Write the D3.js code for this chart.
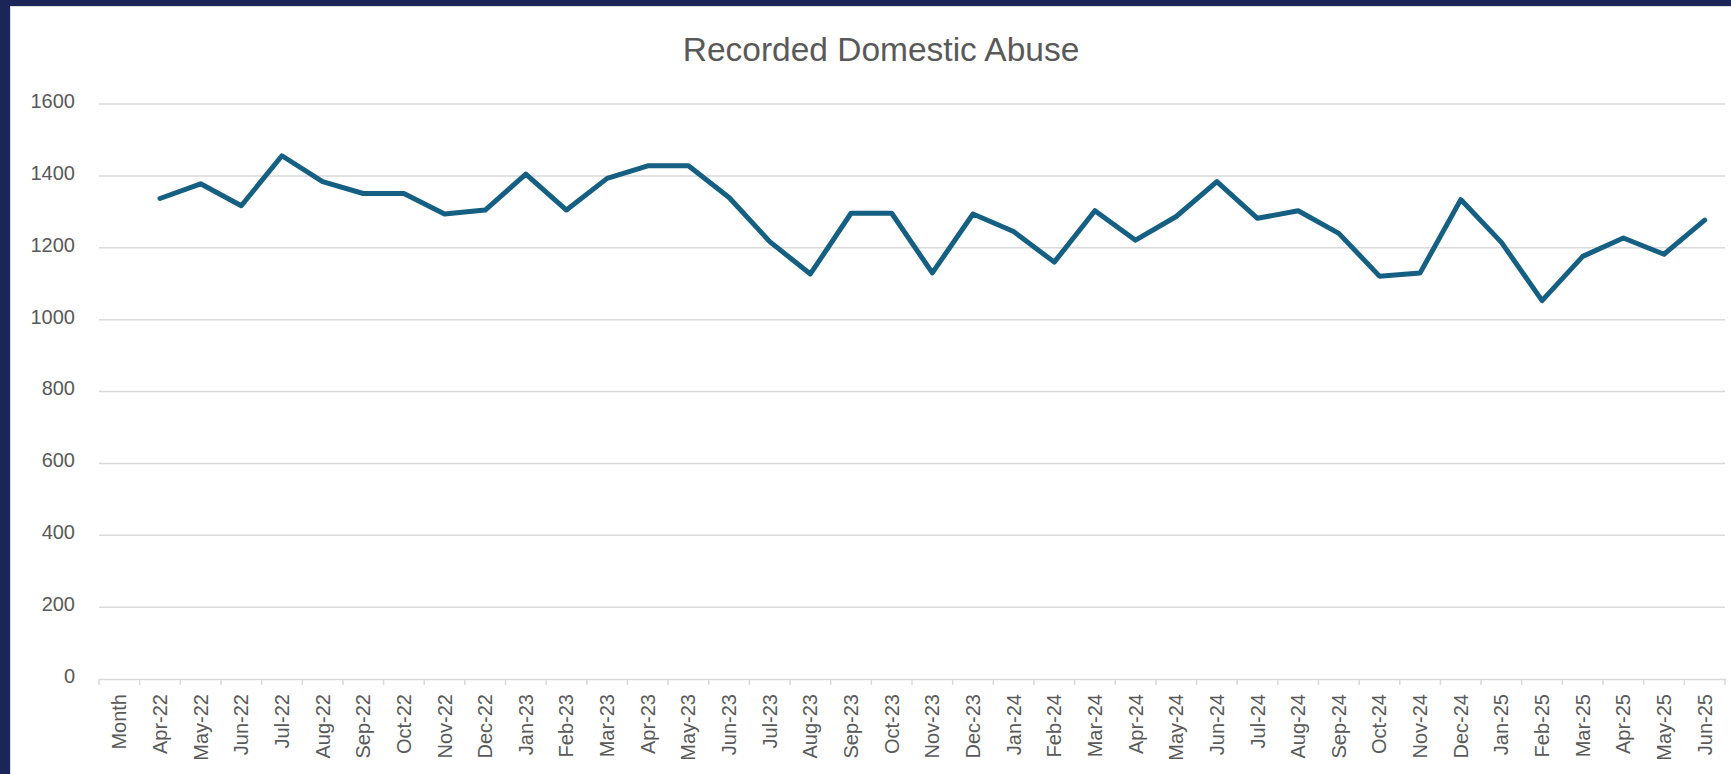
<!DOCTYPE html>
<html>
<head>
<meta charset="utf-8">
<script src="https://cdn.jsdelivr.net/npm/d3@7"></script>
<style>
  html, body { margin: 0; padding: 0; background: #1b2557; }
  svg { display: block; }
  text { font-family: "Liberation Sans", Arial, sans-serif; fill: #595959; }
</style>
</head>
<body>
<svg id="chart" width="1731" height="774"></svg>
<script>
const title = "Recorded Domestic Abuse";
const categories = ["Month",
  "Apr-22","May-22","Jun-22","Jul-22","Aug-22","Sep-22","Oct-22","Nov-22","Dec-22","Jan-23","Feb-23","Mar-23",
  "Apr-23","May-23","Jun-23","Jul-23","Aug-23","Sep-23","Oct-23","Nov-23","Dec-23","Jan-24","Feb-24","Mar-24",
  "Apr-24","May-24","Jun-24","Jul-24","Aug-24","Sep-24","Oct-24","Nov-24","Dec-24","Jan-25","Feb-25","Mar-25",
  "Apr-25","May-25","Jun-25"];
const values = [null,
  1337,1378,1317,1456,1384,1351,1351,1294,1305,1405,1305,1393,
  1428,1428,1340,1217,1127,1296,1296,1130,1294,1245,1160,1303,
  1221,1287,1384,1282,1303,1240,1121,1130,1334,1215,1053,1176,
  1227,1182,1277];
const yTicks = [0,200,400,600,800,1000,1200,1400,1600];

const svg = d3.select("#chart");
const W = 1731, H = 774;

// white panel
svg.append("rect").attr("x", 10.5).attr("y", 6.5).attr("width", W - 10).attr("height", H - 6)
  .attr("fill", "#ffffff").attr("stroke", "#d9d9d9").attr("stroke-width", 1);

const x = d3.scaleBand().domain(categories).range([99, 1725]).paddingInner(0).paddingOuter(0);
const y = d3.scaleLinear().domain([0, 1600]).range([679, 104]);

// gridlines
svg.append("g").selectAll("line").data(yTicks.filter(d => d > 0)).join("line")
  .attr("x1", 99).attr("x2", 1725)
  .attr("y1", d => y(d)).attr("y2", d => y(d))
  .attr("stroke", "#d9d9d9").attr("stroke-width", 1.5);

// y axis labels
const yAxis = d3.axisLeft(y).tickValues(yTicks).tickSize(0).tickPadding(0).tickFormat(d3.format("d"));
const gy = svg.append("g").attr("transform", "translate(75,-3)").call(yAxis);
gy.select(".domain").remove();
gy.selectAll("text").attr("font-size", 20).attr("fill", "#595959")
  .attr("font-family", "Liberation Sans, Arial, sans-serif");

// x axis
const xAxis = d3.axisBottom(x).tickSize(0).tickPadding(0);
const gx = svg.append("g").attr("transform", "translate(0,679)").call(xAxis);
gx.select(".domain").attr("stroke", "#d9d9d9").attr("stroke-width", 1.5);
gx.selectAll("text")
  .attr("font-size", 20).attr("fill", "#595959")
  .attr("font-family", "Liberation Sans, Arial, sans-serif")
  .attr("transform", "rotate(-90)")
  .attr("text-anchor", "end")
  .attr("x", -15).attr("y", 0).attr("dy", "0.35em");

// boundary ticks
const bounds = d3.range(categories.length + 1).map(i => x.range()[0] + i * x.step());
svg.append("g").selectAll("line").data(bounds).join("line")
  .attr("x1", d => d).attr("x2", d => d)
  .attr("y1", 679).attr("y2", 685)
  .attr("stroke", "#d9d9d9").attr("stroke-width", 1.5);

// line
const pts = categories.map((c, i) => ({c, v: values[i]}));
const line = d3.line()
  .defined(d => d.v != null)
  .x(d => x(d.c) + x.bandwidth() / 2)
  .y(d => y(d.v));
svg.append("path").datum(pts).attr("d", line)
  .attr("fill", "none").attr("stroke", "#156082").attr("stroke-width", 5)
  .attr("stroke-linejoin", "round").attr("stroke-linecap", "round");

// title
svg.append("text").attr("x", 881).attr("y", 61).attr("text-anchor", "middle")
  .attr("font-size", 33.5).attr("fill", "#595959").text(title);
</script>
</body>
</html>
